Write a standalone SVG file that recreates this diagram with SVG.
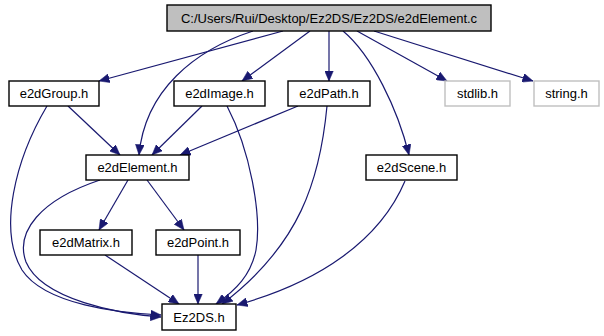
<svg xmlns="http://www.w3.org/2000/svg" width="604" height="336" viewBox="0 0 604 336">
  <style>
    .node rect { fill: #ffffff; stroke: #000000; stroke-width: 1.4; }
    .node.root rect { fill: #bfbfbf; }
    .node.ext rect { stroke: #bfbfbf; }
    .node text { font-family: "Liberation Sans", Arial, sans-serif; font-size: 13px; text-anchor: middle; fill: #000000; }
    .edges path { fill: none; stroke: #191970; stroke-width: 1.2; marker-end: url(#arrow); }
  </style>
  <defs>
    <marker id="arrow" markerUnits="userSpaceOnUse" markerWidth="11" markerHeight="9" refX="10.5" refY="4.5" orient="auto">
      <path d="M0,0 L10.5,4.5 L0,9 z" fill="#191970" stroke="#191970" stroke-width="0.5"/>
    </marker>
  </defs>
  <rect width="604" height="336" fill="#ffffff"/>

  <!-- include dependencies -->
  <g class="edges">
    <path d="M283,31 L99,81"/>
    <path d="M253,31 C195,50 145,90 139,155"/>
    <path d="M310,31 L242,81"/>
    <path d="M329,31 L329,81"/>
    <path d="M357,31 L447,81"/>
    <path d="M374,31 L533,81"/>
    <path d="M343,31 C372,55 398,110 409,155"/>
    <path d="M68,106 L120,155"/>
    <path d="M47,106 C15,160 -2,230 22,270 C45,305 120,313 161,315"/>
    <path d="M202,106 L152,155"/>
    <path d="M227,106 C250,150 262,215 256,250 C251,275 236,290 216,304"/>
    <path d="M298,106 L180,155"/>
    <path d="M327,106 C320,180 300,245 222,304"/>
    <path d="M405,181 C380,240 320,282 237,305"/>
    <path d="M128,180 L99,230"/>
    <path d="M147,180 L184,230"/>
    <path d="M100,180 C40,200 15,232 26,262 C42,300 120,314 161,317"/>
    <path d="M105,255 L179,304"/>
    <path d="M198,255 L198,304"/>
  </g>

  <g id="node-e2dElement-c" class="node root">
    <rect x="167" y="5" width="324" height="26"/>
    <text x="329" y="22.5">C:/Users/Rui/Desktop/Ez2DS/Ez2DS/e2dElement.c</text>
  </g>
  <g id="node-e2dGroup" class="node">
    <rect x="9" y="81" width="90" height="25"/>
    <text x="54" y="98">e2dGroup.h</text>
  </g>
  <g id="node-e2dImage" class="node">
    <rect x="174" y="81" width="91" height="25"/>
    <text x="219.5" y="98">e2dImage.h</text>
  </g>
  <g id="node-e2dPath" class="node">
    <rect x="288" y="81" width="82" height="25"/>
    <text x="329" y="98">e2dPath.h</text>
  </g>
  <g id="node-stdlib" class="node ext">
    <rect x="445" y="81" width="65" height="25"/>
    <text x="477.5" y="98">stdlib.h</text>
  </g>
  <g id="node-string" class="node ext">
    <rect x="534" y="81" width="65" height="25"/>
    <text x="566.5" y="98">string.h</text>
  </g>
  <g id="node-e2dElement" class="node">
    <rect x="86" y="155" width="103" height="25"/>
    <text x="137.5" y="172">e2dElement.h</text>
  </g>
  <g id="node-e2dScene" class="node">
    <rect x="366" y="155" width="91" height="25"/>
    <text x="411.5" y="172">e2dScene.h</text>
  </g>
  <g id="node-e2dMatrix" class="node">
    <rect x="40" y="230" width="92" height="25"/>
    <text x="86" y="247">e2dMatrix.h</text>
  </g>
  <g id="node-e2dPoint" class="node">
    <rect x="156" y="230" width="84" height="25"/>
    <text x="198" y="247">e2dPoint.h</text>
  </g>
  <g id="node-Ez2DS" class="node">
    <rect x="162" y="304" width="74" height="26"/>
    <text x="199" y="321.5">Ez2DS.h</text>
  </g>
</svg>
